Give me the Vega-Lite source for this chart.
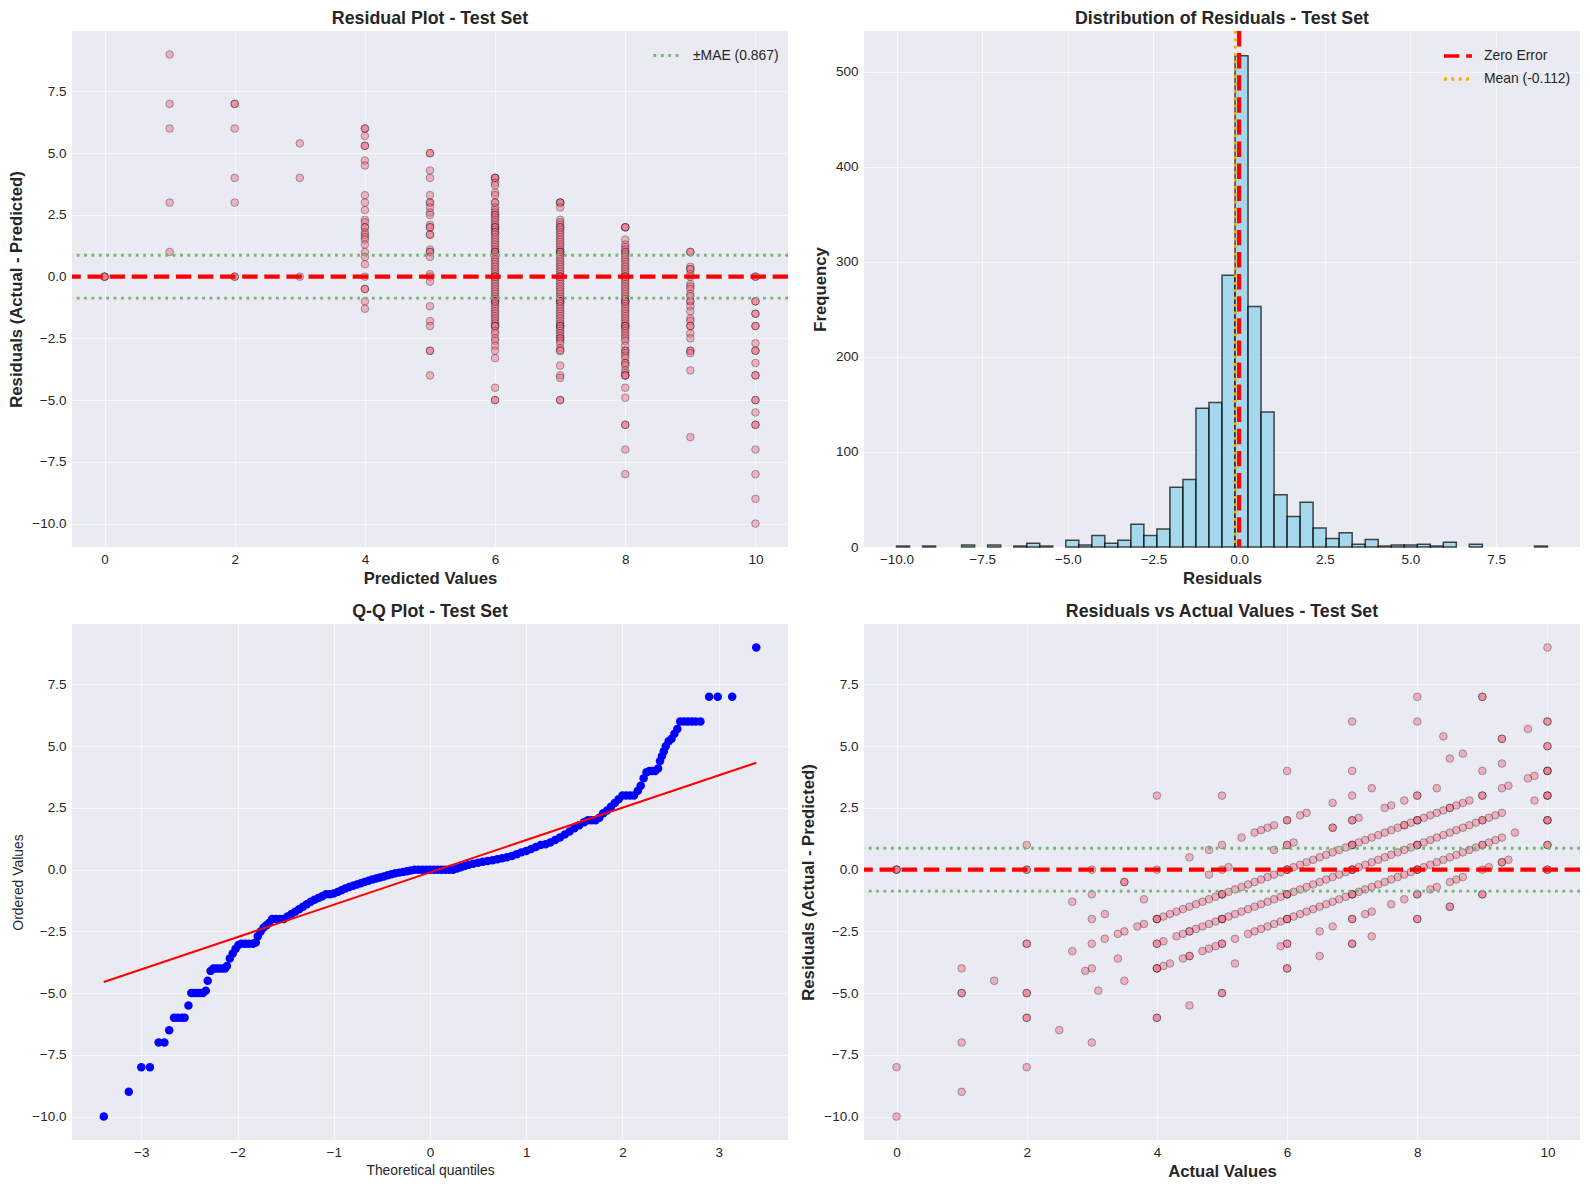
{
"$schema": "https://vega.github.io/schema/vega-lite/v6.json",
"background": "white",
"padding": {"left": 8, "top": 10, "right": 5, "bottom": 5},
"config": {
  "view": {"fill": "#EAEAF2", "stroke": null},
  "axis": {"domain": false, "ticks": false, "grid": true, "gridColor": "#ffffff", "gridOpacity": 0.6, "gridWidth": 1, "labelFont": "Liberation Sans", "labelFontSize": 13.5, "labelColor": "#262626", "labelPadding": 5, "labelOverlap": false, "labelFlush": false, "titleFont": "Liberation Sans", "titleFontSize": 16.7, "titleFontWeight": "bold", "titleColor": "#262626", "titlePadding": 5},
  "axisY": {"labelPadding": 6, "titlePadding": 6},
  "title": {"font": "Liberation Sans", "fontSize": 17.8, "fontWeight": "bold", "color": "#262626", "offset": 3, "anchor": "middle", "frame": "group"},
  "legend": {"labelFont": "Liberation Sans", "labelFontSize": 13.9, "labelColor": "#262626", "symbolType": "stroke", "symbolSize": 784, "labelOffset": 10, "rowPadding": -3, "offset": 9, "padding": 0, "orient": "top-right"}
},
"resolve": {"scale": {"color": "independent", "strokeDash": "independent"}, "legend": {"color": "independent", "strokeDash": "independent"}},
"datasets": {
"pts": [
{"p":0,"a":0,"r":0},{"p":0,"a":0,"r":0},{"p":0,"a":0,"r":0},
{"p":1,"a":10,"r":9},{"p":1,"a":8,"r":7},{"p":1,"a":7,"r":6},{"p":1,"a":4,"r":3},{"p":1,"a":2,"r":1},
{"p":2,"a":9,"r":7},{"p":2,"a":9,"r":7},{"p":2,"a":8,"r":6},{"p":2,"a":6,"r":4},{"p":2,"a":5,"r":3},{"p":2,"a":2,"r":0},{"p":2,"a":2,"r":0},
{"p":3,"a":8.4,"r":5.4},{"p":3,"a":7,"r":4},{"p":3,"a":3,"r":0},
{"p":4,"a":10,"r":6},{"p":4,"a":10,"r":6},{"p":4,"a":9.7,"r":5.7},{"p":4,"a":9.3,"r":5.3},{"p":4,"a":9.3,"r":5.3},{"p":4,"a":8.7,"r":4.7},{"p":4,"a":8.5,"r":4.5},{"p":4,"a":7.3,"r":3.3},{"p":4,"a":7,"r":3},{"p":4,"a":6.7,"r":2.7},{"p":4,"a":6.3,"r":2.3},{"p":4,"a":6.2,"r":2.2},{"p":4,"a":6,"r":2},{"p":4,"a":6,"r":2},{"p":4,"a":5.8,"r":1.8},{"p":4,"a":5.7,"r":1.7},{"p":4,"a":5.6,"r":1.6},{"p":4,"a":5.5,"r":1.5},{"p":4,"a":5.3,"r":1.3},{"p":4,"a":5,"r":1},{"p":4,"a":4.8,"r":0.8},{"p":4,"a":4.5,"r":0.5},{"p":4,"a":4,"r":0},{"p":4,"a":3.5,"r":-0.5},{"p":4,"a":3.5,"r":-0.5},{"p":4,"a":3,"r":-1},{"p":4,"a":2.7,"r":-1.3},
{"p":5,"a":10,"r":5},{"p":5,"a":10,"r":5},{"p":5,"a":9.3,"r":4.3},{"p":5,"a":9,"r":4},{"p":5,"a":8.3,"r":3.3},{"p":5,"a":8,"r":3},{"p":5,"a":8,"r":3},{"p":5,"a":7.8,"r":2.8},{"p":5,"a":7.6,"r":2.6},{"p":5,"a":7.5,"r":2.5},{"p":5,"a":7.1,"r":2.1},{"p":5,"a":7,"r":2},{"p":5,"a":7,"r":2},{"p":5,"a":6.7,"r":1.7},{"p":5,"a":6.7,"r":1.7},{"p":5,"a":6.1,"r":1.1},{"p":5,"a":6,"r":1},{"p":5,"a":6,"r":1},{"p":5,"a":5.8,"r":0.8},{"p":5,"a":5.1,"r":0.1},{"p":5,"a":5,"r":0},{"p":5,"a":4.8,"r":-0.2},{"p":5,"a":3.8,"r":-1.2},{"p":5,"a":3.2,"r":-1.8},{"p":5,"a":3,"r":-2},{"p":5,"a":2,"r":-3},{"p":5,"a":2,"r":-3},{"p":5,"a":1,"r":-4},
{"p":6,"a":10,"r":4},{"p":6,"a":10,"r":4},{"p":6,"a":10,"r":4},{"p":6,"a":9.8,"r":3.8},{"p":6,"a":9.7,"r":3.7},{"p":6,"a":9.4,"r":3.4},{"p":6,"a":9.3,"r":3.3},{"p":6,"a":9,"r":3},{"p":6,"a":9,"r":3},{"p":6,"a":8.8,"r":2.8},{"p":6,"a":8.7,"r":2.7},{"p":6,"a":8.6,"r":2.6},{"p":6,"a":8.5,"r":2.5},{"p":6,"a":8.5,"r":2.5},{"p":6,"a":8.4,"r":2.4},{"p":6,"a":8.3,"r":2.3},{"p":6,"a":8.2,"r":2.2},{"p":6,"a":8.1,"r":2.1},{"p":6,"a":8,"r":2},{"p":6,"a":8,"r":2},{"p":6,"a":8,"r":2},{"p":6,"a":7.9,"r":1.9},{"p":6,"a":7.8,"r":1.8},{"p":6,"a":7.8,"r":1.8},{"p":6,"a":7.7,"r":1.7},{"p":6,"a":7.6,"r":1.6},{"p":6,"a":7.5,"r":1.5},{"p":6,"a":7.4,"r":1.4},{"p":6,"a":7.3,"r":1.3},{"p":6,"a":7.2,"r":1.2},{"p":6,"a":7.1,"r":1.1},{"p":6,"a":7,"r":1},{"p":6,"a":7,"r":1},{"p":6,"a":7,"r":1},{"p":6,"a":6.9,"r":0.9},{"p":6,"a":6.8,"r":0.8},{"p":6,"a":6.7,"r":0.7},{"p":6,"a":6.6,"r":0.6},{"p":6,"a":6.5,"r":0.5},{"p":6,"a":6.4,"r":0.4},{"p":6,"a":6.3,"r":0.3},{"p":6,"a":6.2,"r":0.2},{"p":6,"a":6.1,"r":0.1},{"p":6,"a":6,"r":0},{"p":6,"a":6,"r":0},{"p":6,"a":6,"r":0},{"p":6,"a":5.9,"r":-0.1},{"p":6,"a":5.8,"r":-0.2},{"p":6,"a":5.7,"r":-0.3},{"p":6,"a":5.6,"r":-0.4},{"p":6,"a":5.5,"r":-0.5},{"p":6,"a":5.4,"r":-0.6},{"p":6,"a":5.3,"r":-0.7},{"p":6,"a":5.2,"r":-0.8},{"p":6,"a":5.1,"r":-0.9},{"p":6,"a":5,"r":-1},{"p":6,"a":5,"r":-1},{"p":6,"a":5,"r":-1},{"p":6,"a":4.9,"r":-1.1},{"p":6,"a":4.8,"r":-1.2},{"p":6,"a":4.7,"r":-1.3},{"p":6,"a":4.6,"r":-1.4},{"p":6,"a":4.5,"r":-1.5},{"p":6,"a":4.4,"r":-1.6},{"p":6,"a":4.3,"r":-1.7},{"p":6,"a":4.2,"r":-1.8},{"p":6,"a":4.1,"r":-1.9},{"p":6,"a":4,"r":-2},{"p":6,"a":4,"r":-2},{"p":6,"a":4,"r":-2},{"p":6,"a":3.8,"r":-2.2},{"p":6,"a":3.7,"r":-2.3},{"p":6,"a":3.5,"r":-2.5},{"p":6,"a":3.4,"r":-2.6},{"p":6,"a":3.2,"r":-2.8},{"p":6,"a":3,"r":-3},{"p":6,"a":2.7,"r":-3.3},{"p":6,"a":1.5,"r":-4.5},{"p":6,"a":1,"r":-5},{"p":6,"a":1,"r":-5},
{"p":7,"a":10,"r":3},{"p":7,"a":10,"r":3},{"p":7,"a":10,"r":3},{"p":7,"a":9.8,"r":2.8},{"p":7,"a":9.3,"r":2.3},{"p":7,"a":9.2,"r":2.2},{"p":7,"a":9.1,"r":2.1},{"p":7,"a":9,"r":2},{"p":7,"a":9,"r":2},{"p":7,"a":8.9,"r":1.9},{"p":7,"a":8.8,"r":1.8},{"p":7,"a":8.7,"r":1.7},{"p":7,"a":8.6,"r":1.6},{"p":7,"a":8.5,"r":1.5},{"p":7,"a":8.4,"r":1.4},{"p":7,"a":8.3,"r":1.3},{"p":7,"a":8.2,"r":1.2},{"p":7,"a":8.1,"r":1.1},{"p":7,"a":8,"r":1},{"p":7,"a":8,"r":1},{"p":7,"a":8,"r":1},{"p":7,"a":7.9,"r":0.9},{"p":7,"a":7.8,"r":0.8},{"p":7,"a":7.7,"r":0.7},{"p":7,"a":7.6,"r":0.6},{"p":7,"a":7.5,"r":0.5},{"p":7,"a":7.4,"r":0.4},{"p":7,"a":7.3,"r":0.3},{"p":7,"a":7.2,"r":0.2},{"p":7,"a":7.1,"r":0.1},{"p":7,"a":7,"r":0},{"p":7,"a":7,"r":0},{"p":7,"a":7,"r":0},{"p":7,"a":6.9,"r":-0.1},{"p":7,"a":6.8,"r":-0.2},{"p":7,"a":6.7,"r":-0.3},{"p":7,"a":6.6,"r":-0.4},{"p":7,"a":6.5,"r":-0.5},{"p":7,"a":6.4,"r":-0.6},{"p":7,"a":6.3,"r":-0.7},{"p":7,"a":6.2,"r":-0.8},{"p":7,"a":6.1,"r":-0.9},{"p":7,"a":6,"r":-1},{"p":7,"a":6,"r":-1},{"p":7,"a":6,"r":-1},{"p":7,"a":5.9,"r":-1.1},{"p":7,"a":5.8,"r":-1.2},{"p":7,"a":5.7,"r":-1.3},{"p":7,"a":5.6,"r":-1.4},{"p":7,"a":5.5,"r":-1.5},{"p":7,"a":5.4,"r":-1.6},{"p":7,"a":5.3,"r":-1.7},{"p":7,"a":5.2,"r":-1.8},{"p":7,"a":5.1,"r":-1.9},{"p":7,"a":5,"r":-2},{"p":7,"a":5,"r":-2},{"p":7,"a":5,"r":-2},{"p":7,"a":4.9,"r":-2.1},{"p":7,"a":4.8,"r":-2.2},{"p":7,"a":4.7,"r":-2.3},{"p":7,"a":4.6,"r":-2.4},{"p":7,"a":4.5,"r":-2.5},{"p":7,"a":4.5,"r":-2.5},{"p":7,"a":4.4,"r":-2.6},{"p":7,"a":4.3,"r":-2.7},{"p":7,"a":4.1,"r":-2.9},{"p":7,"a":4,"r":-3},{"p":7,"a":4,"r":-3},{"p":7,"a":3.4,"r":-3.6},{"p":7,"a":3,"r":-4},{"p":7,"a":2.9,"r":-4.1},{"p":7,"a":2,"r":-5},{"p":7,"a":2,"r":-5},
{"p":8,"a":10,"r":2},{"p":8,"a":10,"r":2},{"p":8,"a":10,"r":2},{"p":8,"a":9.5,"r":1.5},{"p":8,"a":9.3,"r":1.3},{"p":8,"a":9.2,"r":1.2},{"p":8,"a":9.1,"r":1.1},{"p":8,"a":9,"r":1},{"p":8,"a":9,"r":1},{"p":8,"a":8.9,"r":0.9},{"p":8,"a":8.8,"r":0.8},{"p":8,"a":8.7,"r":0.7},{"p":8,"a":8.6,"r":0.6},{"p":8,"a":8.5,"r":0.5},{"p":8,"a":8.4,"r":0.4},{"p":8,"a":8.3,"r":0.3},{"p":8,"a":8.2,"r":0.2},{"p":8,"a":8.1,"r":0.1},{"p":8,"a":8,"r":0},{"p":8,"a":8,"r":0},{"p":8,"a":8,"r":0},{"p":8,"a":7.9,"r":-0.1},{"p":8,"a":7.8,"r":-0.2},{"p":8,"a":7.7,"r":-0.3},{"p":8,"a":7.6,"r":-0.4},{"p":8,"a":7.5,"r":-0.5},{"p":8,"a":7.4,"r":-0.6},{"p":8,"a":7.3,"r":-0.7},{"p":8,"a":7.2,"r":-0.8},{"p":8,"a":7.1,"r":-0.9},{"p":8,"a":7,"r":-1},{"p":8,"a":7,"r":-1},{"p":8,"a":7,"r":-1},{"p":8,"a":6.9,"r":-1.1},{"p":8,"a":6.8,"r":-1.2},{"p":8,"a":6.7,"r":-1.3},{"p":8,"a":6.6,"r":-1.4},{"p":8,"a":6.5,"r":-1.5},{"p":8,"a":6.4,"r":-1.6},{"p":8,"a":6.3,"r":-1.7},{"p":8,"a":6.2,"r":-1.8},{"p":8,"a":6.1,"r":-1.9},{"p":8,"a":6,"r":-2},{"p":8,"a":6,"r":-2},{"p":8,"a":6,"r":-2},{"p":8,"a":5.9,"r":-2.1},{"p":8,"a":5.8,"r":-2.2},{"p":8,"a":5.7,"r":-2.3},{"p":8,"a":5.6,"r":-2.4},{"p":8,"a":5.5,"r":-2.5},{"p":8,"a":5.4,"r":-2.6},{"p":8,"a":5.2,"r":-2.8},{"p":8,"a":5,"r":-3},{"p":8,"a":5,"r":-3},{"p":8,"a":4.9,"r":-3.1},{"p":8,"a":4.8,"r":-3.2},{"p":8,"a":4.7,"r":-3.3},{"p":8,"a":4.5,"r":-3.5},{"p":8,"a":4.5,"r":-3.5},{"p":8,"a":4.4,"r":-3.6},{"p":8,"a":4.2,"r":-3.8},{"p":8,"a":4.1,"r":-3.9},{"p":8,"a":4,"r":-4},{"p":8,"a":4,"r":-4},{"p":8,"a":4,"r":-4},{"p":8,"a":3.5,"r":-4.5},{"p":8,"a":3.1,"r":-4.9},{"p":8,"a":2,"r":-6},{"p":8,"a":2,"r":-6},{"p":8,"a":1,"r":-7},{"p":8,"a":0,"r":-8},
{"p":9,"a":10,"r":1},{"p":9,"a":10,"r":1},{"p":9,"a":9.4,"r":0.4},{"p":9,"a":9.3,"r":0.3},{"p":9,"a":9.3,"r":0.3},{"p":9,"a":9.1,"r":0.1},{"p":9,"a":9,"r":0},{"p":9,"a":8.7,"r":-0.3},{"p":9,"a":8.6,"r":-0.4},{"p":9,"a":8.5,"r":-0.5},{"p":9,"a":8.3,"r":-0.7},{"p":9,"a":8.2,"r":-0.8},{"p":9,"a":8,"r":-1},{"p":9,"a":8,"r":-1},{"p":9,"a":7.8,"r":-1.2},{"p":9,"a":7.6,"r":-1.4},{"p":9,"a":7.3,"r":-1.7},{"p":9,"a":7.2,"r":-1.8},{"p":9,"a":7,"r":-2},{"p":9,"a":7,"r":-2},{"p":9,"a":6.7,"r":-2.3},{"p":9,"a":6.5,"r":-2.5},{"p":9,"a":6,"r":-3},{"p":9,"a":6,"r":-3},{"p":9,"a":5.9,"r":-3.1},{"p":9,"a":5.2,"r":-3.8},{"p":9,"a":2.5,"r":-6.5},
{"p":10,"a":10,"r":0},{"p":10,"a":10,"r":0},{"p":10,"a":9,"r":-1},{"p":10,"a":9,"r":-1},{"p":10,"a":8.5,"r":-1.5},{"p":10,"a":8.5,"r":-1.5},{"p":10,"a":8,"r":-2},{"p":10,"a":8,"r":-2},{"p":10,"a":7.3,"r":-2.7},{"p":10,"a":7,"r":-3},{"p":10,"a":7,"r":-3},{"p":10,"a":6.5,"r":-3.5},{"p":10,"a":6,"r":-4},{"p":10,"a":6,"r":-4},{"p":10,"a":5,"r":-5},{"p":10,"a":5,"r":-5},{"p":10,"a":4.5,"r":-5.5},{"p":10,"a":4,"r":-6},{"p":10,"a":4,"r":-6},{"p":10,"a":3,"r":-7},{"p":10,"a":2,"r":-8},{"p":10,"a":1,"r":-9},{"p":10,"a":0,"r":-10}
],
"hist": [
{"lo":-10,"hi":-9.62,"n":1},{"lo":-9.24,"hi":-8.86,"n":1},{"lo":-8.1,"hi":-7.72,"n":2},{"lo":-7.34,"hi":-6.96,"n":2},{"lo":-6.58,"hi":-6.2,"n":1},{"lo":-6.2,"hi":-5.82,"n":4},{"lo":-5.82,"hi":-5.44,"n":1},{"lo":-5.06,"hi":-4.68,"n":7},{"lo":-4.68,"hi":-4.3,"n":2},{"lo":-4.3,"hi":-3.92,"n":12},{"lo":-3.92,"hi":-3.54,"n":4},{"lo":-3.54,"hi":-3.16,"n":7},{"lo":-3.16,"hi":-2.78,"n":24},{"lo":-2.78,"hi":-2.4,"n":12},{"lo":-2.4,"hi":-2.02,"n":19},{"lo":-2.02,"hi":-1.64,"n":63},{"lo":-1.64,"hi":-1.26,"n":71},{"lo":-1.26,"hi":-0.88,"n":146},{"lo":-0.88,"hi":-0.5,"n":152},{"lo":-0.5,"hi":-0.12,"n":286},{"lo":-0.12,"hi":0.26,"n":517},{"lo":0.26,"hi":0.64,"n":253},{"lo":0.64,"hi":1.02,"n":142},{"lo":1.02,"hi":1.4,"n":55},{"lo":1.4,"hi":1.78,"n":32},{"lo":1.78,"hi":2.16,"n":47},{"lo":2.16,"hi":2.54,"n":20},{"lo":2.54,"hi":2.92,"n":9},{"lo":2.92,"hi":3.3,"n":15},{"lo":3.3,"hi":3.68,"n":3},{"lo":3.68,"hi":4.06,"n":8},{"lo":4.06,"hi":4.44,"n":1},{"lo":4.44,"hi":4.82,"n":2},{"lo":4.82,"hi":5.2,"n":2},{"lo":5.2,"hi":5.58,"n":3},{"lo":5.58,"hi":5.96,"n":1},{"lo":5.96,"hi":6.34,"n":5},{"lo":6.72,"hi":7.1,"n":3},{"lo":8.62,"hi":9.0,"n":1}
],
"qq": [
{"q":-3.39,"v":-10},{"q":-3.13,"v":-9},{"q":-3.0,"v":-8},{"q":-2.91,"v":-8},{"q":-2.82,"v":-7},{"q":-2.76,"v":-7},{"q":-2.71,"v":-6.5},{"q":-2.66,"v":-6},{"q":-2.62,"v":-6},{"q":-2.58,"v":-6},{"q":-2.55,"v":-6},{"q":-2.51,"v":-5.5},{"q":-2.48,"v":-5},{"q":-2.45,"v":-5},{"q":-2.42,"v":-5},{"q":-2.39,"v":-5},{"q":-2.36,"v":-5},{"q":-2.33,"v":-4.9},{"q":-2.31,"v":-4.5},{"q":-2.28,"v":-4.1},{"q":-2.25,"v":-4},{"q":-2.22,"v":-4},{"q":-2.19,"v":-4},{"q":-2.16,"v":-4},{"q":-2.13,"v":-4},{"q":-2.11,"v":-3.9},{"q":-2.08,"v":-3.6},{"q":-2.05,"v":-3.4},{"q":-2.02,"v":-3.2},{"q":-1.99,"v":-3.05},{"q":-1.96,"v":-3},{"q":-1.92,"v":-3},{"q":-1.88,"v":-3},{"q":-1.84,"v":-3},{"q":-1.81,"v":-2.95},{"q":-1.79,"v":-2.7},{"q":-1.76,"v":-2.5},{"q":-1.73,"v":-2.35},{"q":-1.7,"v":-2.25},{"q":-1.67,"v":-2.15},{"q":-1.64,"v":-2},{"q":-1.6,"v":-2},{"q":-1.56,"v":-2},{"q":-1.52,"v":-2},{"q":-1.48,"v":-1.9},{"q":-1.44,"v":-1.8},{"q":-1.4,"v":-1.7},{"q":-1.36,"v":-1.6},{"q":-1.32,"v":-1.5},{"q":-1.28,"v":-1.4},{"q":-1.24,"v":-1.3},{"q":-1.2,"v":-1.22},{"q":-1.16,"v":-1.15},{"q":-1.12,"v":-1.08},{"q":-1.08,"v":-1},{"q":-1.04,"v":-1},{"q":-1.0,"v":-0.97},{"q":-0.96,"v":-0.9},{"q":-0.92,"v":-0.83},{"q":-0.88,"v":-0.76},{"q":-0.84,"v":-0.7},{"q":-0.8,"v":-0.65},{"q":-0.76,"v":-0.6},{"q":-0.72,"v":-0.55},{"q":-0.68,"v":-0.5},{"q":-0.64,"v":-0.45},{"q":-0.6,"v":-0.4},{"q":-0.56,"v":-0.36},{"q":-0.52,"v":-0.32},{"q":-0.48,"v":-0.28},{"q":-0.44,"v":-0.23},{"q":-0.4,"v":-0.19},{"q":-0.36,"v":-0.15},{"q":-0.32,"v":-0.12},{"q":-0.28,"v":-0.09},{"q":-0.24,"v":-0.06},{"q":-0.2,"v":-0.03},{"q":-0.16,"v":0},{"q":-0.12,"v":0},{"q":-0.08,"v":0},{"q":-0.04,"v":0},{"q":0,"v":0},{"q":0.04,"v":0},{"q":0.08,"v":0},{"q":0.12,"v":0},{"q":0.16,"v":0},{"q":0.2,"v":0},{"q":0.24,"v":0},{"q":0.28,"v":0.05},{"q":0.32,"v":0.1},{"q":0.36,"v":0.15},{"q":0.4,"v":0.2},{"q":0.45,"v":0.24},{"q":0.5,"v":0.28},{"q":0.55,"v":0.32},{"q":0.6,"v":0.35},{"q":0.65,"v":0.38},{"q":0.7,"v":0.42},{"q":0.75,"v":0.46},{"q":0.8,"v":0.5},{"q":0.85,"v":0.55},{"q":0.9,"v":0.62},{"q":0.95,"v":0.7},{"q":1.0,"v":0.76},{"q":1.05,"v":0.84},{"q":1.1,"v":0.92},{"q":1.15,"v":1},{"q":1.2,"v":1.03},{"q":1.25,"v":1.1},{"q":1.3,"v":1.2},{"q":1.35,"v":1.3},{"q":1.4,"v":1.42},{"q":1.45,"v":1.55},{"q":1.5,"v":1.68},{"q":1.55,"v":1.8},{"q":1.6,"v":1.92},{"q":1.64,"v":2},{"q":1.68,"v":2},{"q":1.72,"v":2},{"q":1.76,"v":2.1},{"q":1.8,"v":2.28},{"q":1.84,"v":2.4},{"q":1.88,"v":2.55},{"q":1.92,"v":2.7},{"q":1.96,"v":2.85},{"q":2.0,"v":3},{"q":2.04,"v":3},{"q":2.08,"v":3},{"q":2.12,"v":3},{"q":2.16,"v":3.2},{"q":2.19,"v":3.4},{"q":2.22,"v":3.7},{"q":2.25,"v":3.95},{"q":2.28,"v":4},{"q":2.31,"v":4},{"q":2.34,"v":4},{"q":2.37,"v":4.1},{"q":2.39,"v":4.4},{"q":2.41,"v":4.6},{"q":2.43,"v":4.8},{"q":2.45,"v":5},{"q":2.48,"v":5.2},{"q":2.51,"v":5.3},{"q":2.54,"v":5.5},{"q":2.57,"v":5.7},{"q":2.6,"v":6},{"q":2.64,"v":6},{"q":2.68,"v":6},{"q":2.72,"v":6},{"q":2.76,"v":6},{"q":2.81,"v":6},{"q":2.9,"v":7},{"q":2.99,"v":7},{"q":3.14,"v":7},{"q":3.39,"v":9}
]
},
"columns": 2,
"spacing": {"row": 77, "column": 76},
"bounds": "flush",
"concat": [
{
 "title": "Residual Plot - Test Set",
 "width": 716, "height": 516,
 "layer": [
  {"data": {"name": "pts"},
   "mark": {"type": "circle", "size": 58, "color": "#f77189", "opacity": 0.5, "stroke": "#000000", "strokeWidth": 0.7},
   "encoding": {
    "x": {"field": "p", "type": "quantitative", "scale": {"domain": [-0.5, 10.5], "nice": false, "zero": false}, "axis": {"values": [0,2,4,6,8,10], "format": "d", "title": "Predicted Values"}},
    "y": {"field": "r", "type": "quantitative", "scale": {"domain": [-10.95, 9.95], "nice": false, "zero": false}, "axis": {"values": [-10,-7.5,-5,-2.5,0,2.5,5,7.5], "format": ".1f", "title": "Residuals (Actual - Predicted)"}}
   }},
  {"data": {"values": [{"r": 0}]},
   "mark": {"type": "rule", "color": "#ff0000", "strokeWidth": 4.17, "strokeDash": [15.4, 6.7], "clip": true},
   "encoding": {"y": {"field": "r", "type": "quantitative"}}},
  {"data": {"values": [{"r": 0.867, "l": "±MAE (0.867)"}, {"r": -0.867, "l": "±MAE (0.867)"}]},
   "mark": {"type": "rule", "strokeWidth": 2.78, "strokeDash": [2.78, 4.6], "clip": true},
   "encoding": {
    "y": {"field": "r", "type": "quantitative"},
    "color": {"field": "l", "type": "nominal", "scale": {"domain": ["±MAE (0.867)"], "range": ["#74b474"]}, "legend": {"title": null, "orient": "top-right", "symbolDash": [2.78, 4.6], "symbolStrokeWidth": 2.78}}
   }}
 ]
},
{
 "title": "Distribution of Residuals - Test Set",
 "width": 716, "height": 516,
 "layer": [
  {"data": {"name": "hist"},
   "mark": {"type": "rect", "color": "#87ceeb", "fillOpacity": 0.7, "stroke": "#000000", "strokeOpacity": 0.7, "strokeWidth": 1.5},
   "encoding": {
    "x": {"field": "lo", "type": "quantitative", "scale": {"domain": [-10.95, 9.95], "nice": false, "zero": false}, "axis": {"values": [-10,-7.5,-5,-2.5,0,2.5,5,7.5], "format": ".1f", "title": "Residuals"}},
    "x2": {"field": "hi"},
    "y": {"field": "n", "type": "quantitative", "scale": {"domain": [0, 543], "nice": false}, "axis": {"values": [0,100,200,300,400,500], "format": "d", "title": "Frequency"}},
    "y2": {"datum": 0}
   }},
  {"data": {"values": [{"lo": 0, "l": "Zero Error"}]},
   "mark": {"type": "rule", "strokeWidth": 4.17, "clip": true},
   "encoding": {
    "x": {"field": "lo", "type": "quantitative"},
    "color": {"field": "l", "type": "nominal", "scale": {"domain": ["Zero Error", "Mean (-0.112)"], "range": ["#ff0000", "#ffa500"]}, "legend": {"title": null, "orient": "top-right", "symbolStrokeWidth": 3.5}},
    "strokeDash": {"field": "l", "type": "nominal", "scale": {"domain": ["Zero Error", "Mean (-0.112)"], "range": [[15.4, 6.7], [2.78, 4.6]]}, "legend": {"title": null, "orient": "top-right"}}
   }},
  {"data": {"values": [{"lo": -0.112, "l": "Mean (-0.112)"}]},
   "mark": {"type": "rule", "strokeWidth": 2.78, "clip": true},
   "encoding": {
    "x": {"field": "lo", "type": "quantitative"},
    "color": {"field": "l", "type": "nominal"},
    "strokeDash": {"field": "l", "type": "nominal"}
   }}
 ]
},
{
 "title": "Q-Q Plot - Test Set",
 "width": 716, "height": 516,
 "layer": [
  {"data": {"name": "qq"},
   "mark": {"type": "circle", "size": 72, "color": "#0000ff", "opacity": 1},
   "encoding": {
    "x": {"field": "q", "type": "quantitative", "scale": {"domain": [-3.72, 3.72], "nice": false, "zero": false}, "axis": {"values": [-3,-2,-1,0,1,2,3], "format": "d", "title": "Theoretical quantiles", "titleFontWeight": "normal", "titleFontSize": 13.9}},
    "y": {"field": "v", "type": "quantitative", "scale": {"domain": [-10.95, 9.95], "nice": false, "zero": false}, "axis": {"values": [-10,-7.5,-5,-2.5,0,2.5,5,7.5], "format": ".1f", "title": "Ordered Values", "titleFontWeight": "normal", "titleFontSize": 13.9}}
   }},
  {"data": {"values": [{"q": -3.39, "v": -4.55}, {"q": 3.39, "v": 4.33}]},
   "mark": {"type": "line", "color": "#ff0000", "strokeWidth": 2.08},
   "encoding": {"x": {"field": "q", "type": "quantitative"}, "y": {"field": "v", "type": "quantitative"}}}
 ]
},
{
 "title": "Residuals vs Actual Values - Test Set",
 "width": 716, "height": 516,
 "layer": [
  {"data": {"name": "pts"},
   "mark": {"type": "circle", "size": 58, "color": "#f77189", "opacity": 0.5, "stroke": "#000000", "strokeWidth": 0.7},
   "encoding": {
    "x": {"field": "a", "type": "quantitative", "scale": {"domain": [-0.5, 10.5], "nice": false, "zero": false}, "axis": {"values": [0,2,4,6,8,10], "format": "d", "title": "Actual Values"}},
    "y": {"field": "r", "type": "quantitative", "scale": {"domain": [-10.95, 9.95], "nice": false, "zero": false}, "axis": {"values": [-10,-7.5,-5,-2.5,0,2.5,5,7.5], "format": ".1f", "title": "Residuals (Actual - Predicted)"}}
   }},
  {"data": {"values": [{"r": 0}]},
   "mark": {"type": "rule", "color": "#ff0000", "strokeWidth": 4.17, "strokeDash": [15.4, 6.7], "clip": true},
   "encoding": {"y": {"field": "r", "type": "quantitative"}}},
  {"data": {"values": [{"r": 0.867}, {"r": -0.867}]},
   "mark": {"type": "rule", "color": "#74b474", "strokeWidth": 2.78, "strokeDash": [2.78, 4.6], "clip": true},
   "encoding": {"y": {"field": "r", "type": "quantitative"}}}
 ]
}
]
}
